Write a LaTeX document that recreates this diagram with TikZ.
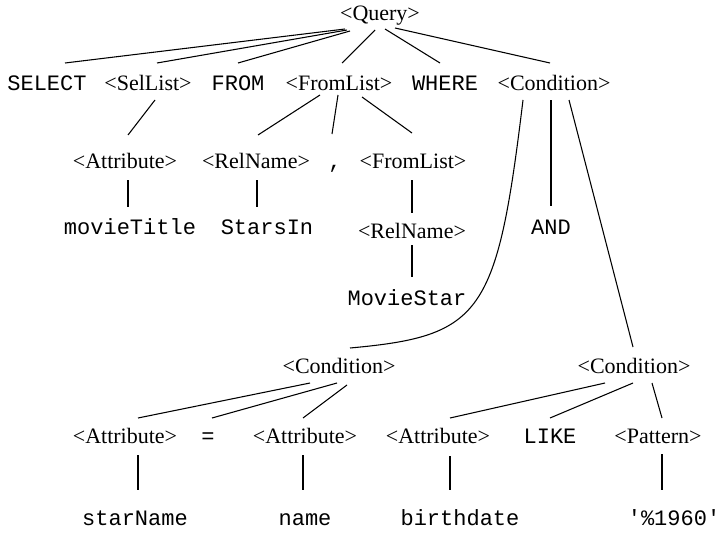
\documentclass[tikz,border=0pt]{standalone}
\usepackage{fontspec}
\setmainfont{Liberation Serif}
\setmonofont{Liberation Mono}
\usetikzlibrary{calc}
\tikzset{
    tree nt/.style={
        font=\fontsize{16.5}{19}\selectfont,
        inner sep=0pt,
        text height=11.5pt,
        text depth=3.2pt
    },
    tree term/.style={tree nt, font=\fontsize{16.5}{19}\selectfont\ttfamily},
    tree edge/.style={line width=0.8pt, draw=black}
}

\begin{document}
\begin{tikzpicture}[x=0.75pt, y=-0.75pt]
\useasboundingbox (0,0) rectangle (723,542);
% Level 1: root
\node[tree nt] (q) at (380,15) {<Query>};

% Level 2: query parts
\node[tree term] (sel) at (47,85) {SELECT};
\node[tree nt] (sl) at (148,85) {<SelList>};
\node[tree term] (from) at (238,85) {FROM};
\node[tree nt] (fl) at (339,85) {<FromList>};
\node[tree term] (wh) at (445,85) {WHERE};
\node[tree nt] (c) at (554,85) {<Condition>};
\draw[tree edge] ($(q)+(-35,14)$) -- ($(sel)+(18,-22)$);
\draw[tree edge] ($(q)+(-33,15)$) -- ($(sl)+(9,-22)$);
\draw[tree edge] ($(q)+(-30,16)$) -- ($(from)+(0,-22)$);
\draw[tree edge] ($(q)+(-5,15)$) -- ($(fl)+(3,-22)$);
\draw[tree edge] ($(q)+(5,14)$) -- ($(wh)+(-5,-22)$);
\draw[tree edge] ($(q)+(15,13)$) -- ($(c)+(-4,-22)$);

% Level 3: select and from lists
\node[tree nt] (at1) at (125,163) {<Attribute>};
\node[tree nt] (rn1) at (256,163) {<RelName>};
\node[tree term] (cm) at (335,163) {,};
\node[tree nt] (fl2) at (413,163) {<FromList>};
\draw[tree edge] ($(sl)+(7,15)$) -- ($(at1)+(3,-28)$);
\draw[tree edge] ($(fl)+(-19,10)$) -- ($(rn1)+(2,-28)$);
\draw[tree edge] ($(fl)+(-1,10)$) -- ($(cm)+(-3,-29)$);
\draw[tree edge] ($(fl)+(23,12)$) -- ($(fl2)+(-1,-30)$);

% Level 4-5: leaves of the lists
\node[tree term] (mt) at (130,229) {movieTitle};
\node[tree term] (si) at (267,229) {StarsIn};
\node[tree nt] (rn2) at (412,233) {<RelName>};
\node[tree term] (ms) at (407,300) {MovieStar};
\node[tree term] (and) at (551,229) {AND};
\draw[tree edge] ($(at1)+(3,17)$) -- ($(mt)+(-2,-22)$);
\draw[tree edge] ($(rn1)+(1,17)$) -- ($(si)+(-10,-22)$);
\draw[tree edge] ($(fl2)+(-1,17)$) -- ($(rn2)+(0,-20)$);
\draw[tree edge] ($(rn2)+(0,12)$) -- ($(ms)+(5,-23)$);
\draw[tree edge] ($(c)+(-3,15)$) -- ($(and)+(0,-23)$);

% Level 6: sub-conditions
\node[tree nt] (c1) at (339,368) {<Condition>};
\node[tree nt] (c2) at (634,368) {<Condition>};
\draw[tree edge] ($(c)+(-31,15)$) .. controls (497,315) and (482,336) .. ($(c1)+(11,-20)$);
\draw[tree edge] ($(c)+(15,15)$) -- ($(c2)+(-1,-21)$);

% Level 7: comparison parts
\node[tree nt] (a1) at (125,438) {<Attribute>};
\node[tree term] (eq) at (208,438) {=};
\node[tree nt] (a2) at (305,438) {<Attribute>};
\node[tree nt] (a3) at (438,438) {<Attribute>};
\node[tree term] (like) at (550,438) {LIKE};
\node[tree nt] (pat) at (658,438) {<Pattern>};
\draw[tree edge] ($(c1)+(-29,15)$) -- ($(a1)+(13,-20)$);
\draw[tree edge] ($(c1)+(-2,15)$) -- ($(eq)+(4,-20)$);
\draw[tree edge] ($(c1)+(8,17)$) -- ($(a2)+(-2,-20)$);
\draw[tree edge] ($(c2)+(-29,15)$) -- ($(a3)+(12,-20)$);
\draw[tree edge] ($(c2)+(-1,15)$) -- ($(like)+(0,-20)$);
\draw[tree edge] ($(c2)+(18,15)$) -- ($(pat)+(4,-20)$);

% Level 8: values
\node[tree term] (sn) at (135,520) {starName};
\node[tree term] (nm) at (305,520) {name};
\node[tree term] (bd) at (460,520) {birthdate};
\node[tree term] (pv) at (674,520) {'\%1960'};
\draw[tree edge] ($(a1)+(13,17)$) -- ($(sn)+(3,-30)$);
\draw[tree edge] ($(a2)+(-2,17)$) -- ($(nm)+(-2,-30)$);
\draw[tree edge] ($(a3)+(12,18)$) -- ($(bd)+(-10,-30)$);
\draw[tree edge] ($(pat)+(4,16)$) -- ($(pv)+(-12,-30)$);
\end{tikzpicture}
\end{document}
